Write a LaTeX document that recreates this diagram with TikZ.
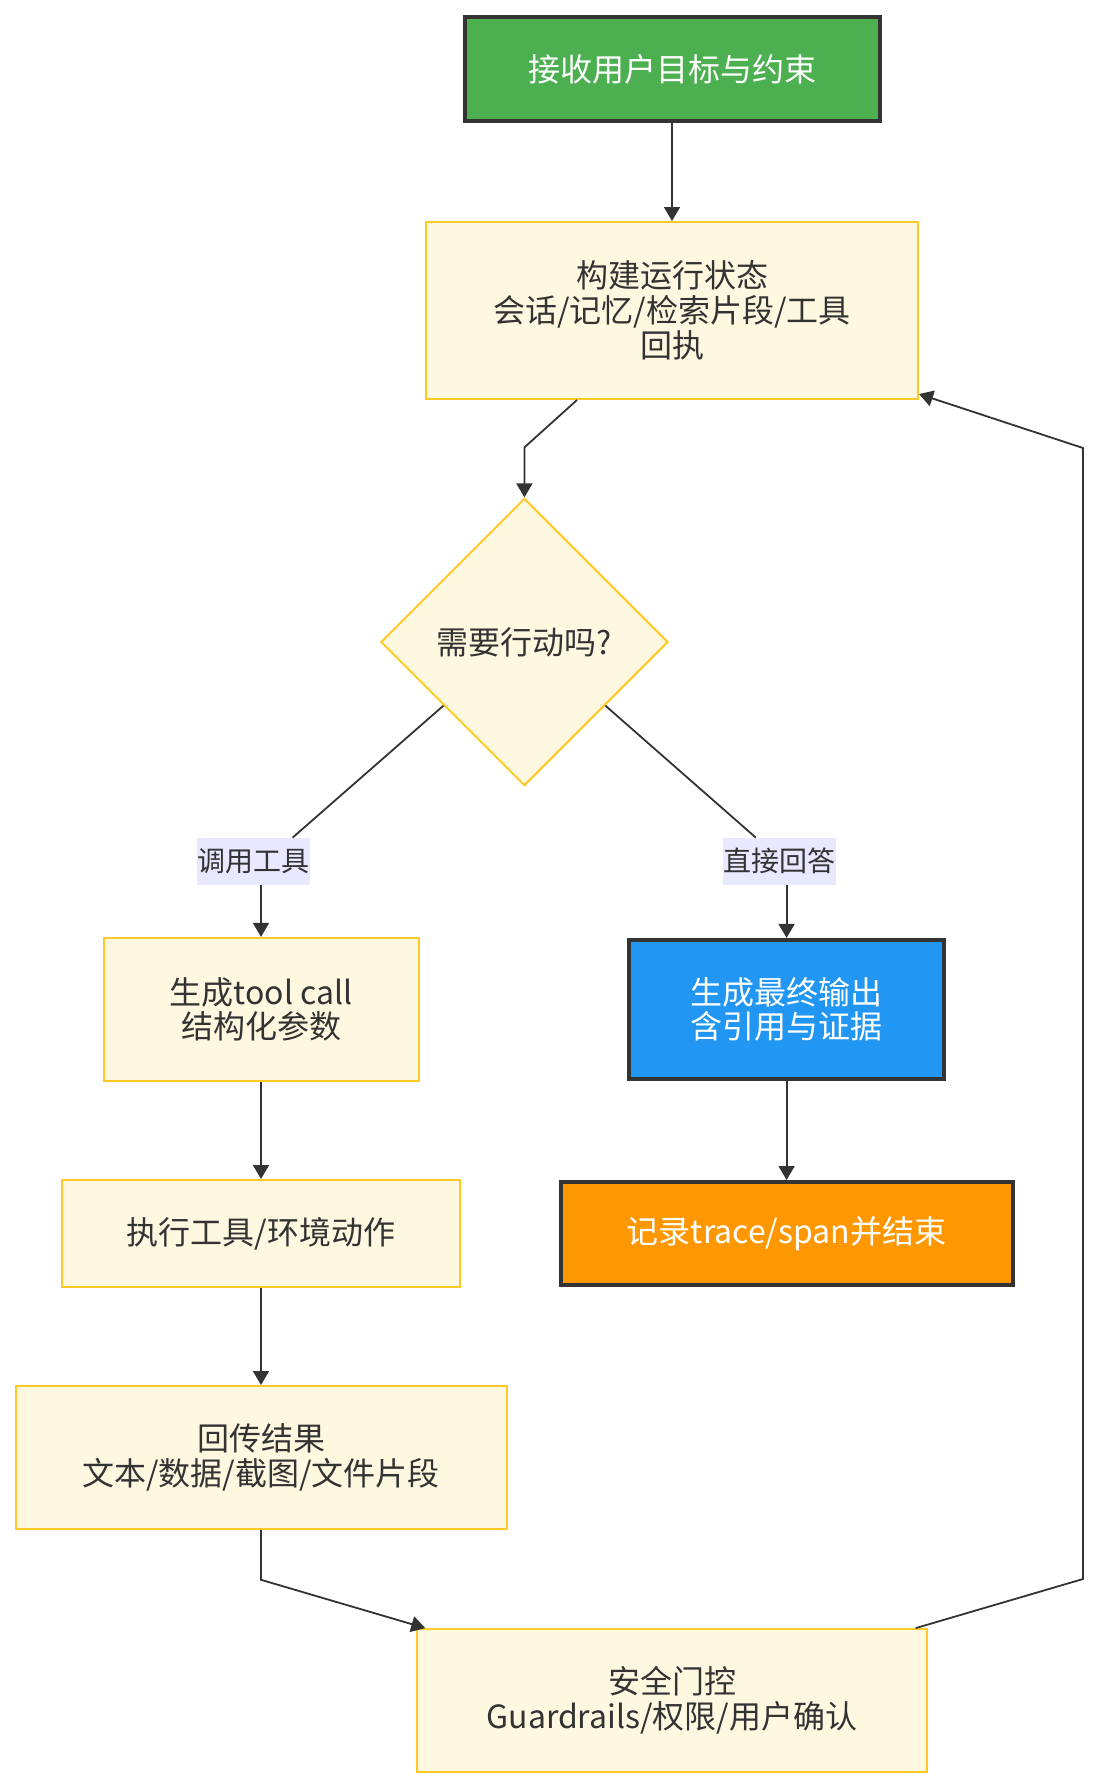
\documentclass[tikz,border=0pt]{standalone}
\usepackage{fontspec}
\setmainfont{Noto Sans CJK SC}
\usepackage{tikz}
\usetikzlibrary{calc, shapes.geometric, arrows.meta}
\definecolor{boxfill}{HTML}{FFF8E1}
\definecolor{boxline}{HTML}{FFCA28}
\definecolor{darkline}{HTML}{333333}
\definecolor{txt}{HTML}{333333}
\definecolor{lblfill}{HTML}{E8E8FF}
\definecolor{startgreen}{HTML}{4CAF50}
\definecolor{outblue}{HTML}{2196F3}
\definecolor{logorange}{HTML}{FF9800}
\tikzstyle{arrow}   = [line width=0.9pt, draw=darkline, -{Triangle[length=7pt,width=8pt]}]
\tikzstyle{line}    = [line width=0.9pt, draw=darkline]
\tikzstyle{stepbox} = [draw=boxline, fill=boxfill, line width=1pt, text=txt, align=center, inner sep=0pt]
\tikzstyle{keybox}  = [draw=darkline, line width=2pt, text=white, align=center, inner sep=0pt]
\tikzstyle{edgelbl} = [fill=lblfill, text=txt, inner sep=0pt, minimum width=56.5pt, minimum height=23.3pt,
                       font=\fontsize{14pt}{16pt}\selectfont]

\begin{document}
\begin{tikzpicture}[x=0.5pt, y=-0.5pt, font=\fontsize{16pt}{17.4pt}\selectfont]
  \useasboundingbox (0,0) rectangle (1100,1788);

  %main column on top
  \node[keybox, fill=startgreen, minimum width=207.5pt, minimum height=52pt] (start) at (672,69) {接收用户目标与约束};
  \node[stepbox, minimum width=246pt, minimum height=88.5pt] (state) at (672,310.5) {构建运行状态\\会话/记忆/检索片段/工具\\回执};
  \node[stepbox, diamond, aspect=1, minimum width=143.6pt, minimum height=143.6pt] (act) at (524.4,642) {需要行动吗?};

  %edge labels
  \node[edgelbl] (lbl1) at (253.6,861.3) {调用工具};
  \node[edgelbl] (lbl2) at (779.8,861.3) {直接回答};

  %tool branch on the left
  \node[stepbox, minimum width=157.5pt, minimum height=71.5pt] (gen) at (261,1009.4) {生成tool call\\结构化参数};
  \node[stepbox, minimum width=199pt, minimum height=53.5pt] (exec) at (261,1233.5) {执行工具/环境动作};
  \node[stepbox, minimum width=245.5pt, minimum height=71.4pt] (ret) at (261,1457.4) {回传结果\\文本/数据/截图/文件片段};
  \node[stepbox, minimum width=254.7pt, minimum height=71.2pt] (guard) at (672,1700.3) {安全门控\\Guardrails/权限/用户确认};

  %answer branch on the right
  \node[keybox, fill=outblue, minimum width=157.5pt, minimum height=69.5pt] (out) at (786.6,1009.4) {生成最终输出\\含引用与证据};
  \node[keybox, fill=logorange, minimum width=226pt, minimum height=51.5pt] (log) at (786.6,1233.5) {记录trace/span并结束};

  %straight arrows
  \foreach \a/\b in {start/state, gen/exec, exec/ret, out/log}{
    \draw[arrow] (\a) -- (\b);
  }

  \draw[arrow] ($(state.south)+(-95,0)$) -- ($(act.north)+(0,-50)$) -- (act.north);
  \draw[line] ($(act.west)!0.44!(act.south)$) -- ($(lbl1.north)+(39,0)$);
  \draw[arrow] (lbl1.south -| gen.north) -- (gen.north);
  \draw[line] ($(act.east)!0.44!(act.south)$) -- ($(lbl2.north)+(-24,0)$);
  \draw[arrow] (lbl2.south -| out.north) -- (out.north);
  \draw[arrow] (ret.south) -- ++(0,50) -- ($(guard.north west)+(9,0)$);

  %loop back up the right side
  \coordinate (r1) at (1083,1579);
  \coordinate (r2) at (1083,448);
  \draw[arrow] ($(guard.north east)+(-12,0)$) -- (r1) -- (r2) -- ($(state.south east)+(0,-6)$);
\end{tikzpicture}
\end{document}
